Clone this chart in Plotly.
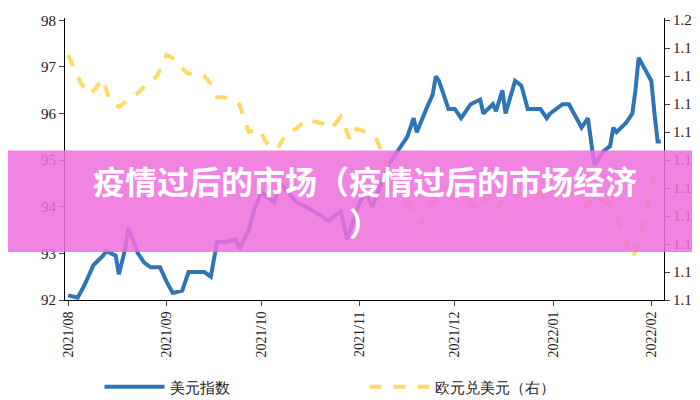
import pandas as pd
import plotly.graph_objects as go

# 美元指数 (left axis)
usd_dates = ["2021-08-01", "2021-08-04", "2021-08-06", "2021-08-09", "2021-08-12", "2021-08-13", "2021-08-16",
             "2021-08-17", "2021-08-19", "2021-08-20", "2021-08-23", "2021-08-25", "2021-08-27", "2021-08-30",
             "2021-09-01", "2021-09-03", "2021-09-06", "2021-09-08", "2021-09-10", "2021-09-13", "2021-09-15",
             "2021-09-17", "2021-09-20", "2021-09-23", "2021-09-24", "2021-09-27", "2021-09-29", "2021-10-01",
             "2021-10-05", "2021-10-07", "2021-10-12", "2021-10-15", "2021-10-20", "2021-10-22", "2021-10-26",
             "2021-10-28", "2021-11-01", "2021-11-03", "2021-11-05", "2021-11-10", "2021-11-12", "2021-11-16",
             "2021-11-18", "2021-11-19", "2021-11-22", "2021-11-24", "2021-11-25", "2021-11-26", "2021-11-29",
             "2021-12-01", "2021-12-03", "2021-12-06", "2021-12-09", "2021-12-10", "2021-12-13", "2021-12-14",
             "2021-12-16", "2021-12-17", "2021-12-20", "2021-12-22", "2021-12-24", "2021-12-28", "2021-12-30",
             "2021-12-31", "2022-01-04", "2022-01-06", "2022-01-10", "2022-01-12", "2022-01-14", "2022-01-17",
             "2022-01-19", "2022-01-20", "2022-01-21", "2022-01-24", "2022-01-26", "2022-01-27", "2022-01-28",
             "2022-02-01", "2022-02-02", "2022-02-03", "2022-02-04"]
usd_index = [92.1, 92.05, 92.3, 92.75, 92.95, 93.05, 92.95, 92.55, 93.1, 93.55, 93.0, 92.8, 92.7, 92.7,
             92.4, 92.15, 92.2, 92.6, 92.6, 92.6, 92.5, 93.25, 93.25, 93.3, 93.1, 93.5, 94.0, 94.3,
             94.1, 94.5, 94.1, 94.0, 93.8, 93.7, 93.9, 93.3, 94.1, 94.3, 94.0, 94.9, 95.1, 95.5,
             95.9, 95.6, 96.1, 96.4, 96.8, 96.7, 96.1, 96.1, 95.9, 96.2, 96.3, 96.0, 96.2, 96.05,
             96.5, 96.0, 96.7, 96.6, 96.1, 96.1, 95.9, 96.0, 96.2, 96.2, 95.7, 95.9, 94.9, 95.2,
             95.3, 95.7, 95.6, 95.8, 96.0, 96.5, 97.2, 96.7, 96.0, 95.4, 95.4]

# 欧元兑美元 (right axis)
eur_dates = ["2021-08-01", "2021-08-05", "2021-08-08", "2021-08-11", "2021-08-12", "2021-08-14", "2021-08-17",
             "2021-08-20", "2021-08-23", "2021-08-26", "2021-08-29", "2021-09-01", "2021-09-04", "2021-09-07",
             "2021-09-10", "2021-09-13", "2021-09-16", "2021-09-17", "2021-09-19", "2021-09-22", "2021-09-24",
             "2021-09-27", "2021-09-30", "2021-10-03", "2021-10-06", "2021-10-09", "2021-10-12", "2021-10-15",
             "2021-10-20", "2021-10-23", "2021-10-26", "2021-10-29", "2021-10-31", "2021-11-03", "2021-11-06",
             "2021-11-09", "2021-11-11", "2021-11-15", "2021-11-20", "2021-11-23", "2021-11-26", "2021-11-29",
             "2021-12-02", "2021-12-05", "2021-12-08", "2021-12-11", "2021-12-14", "2021-12-17", "2021-12-20",
             "2021-12-23", "2021-12-27", "2021-12-30", "2022-01-02", "2022-01-05", "2022-01-08", "2022-01-11",
             "2022-01-14", "2022-01-17", "2022-01-20", "2022-01-23", "2022-01-26", "2022-01-28", "2022-01-31",
             "2022-02-02", "2022-02-04"]
eur_usd = [1.1875, 1.1775, 1.1735, 1.1775, 1.1790, 1.1715, 1.1690, 1.1715, 1.1740, 1.1775, 1.1800, 1.1875,
           1.1860, 1.1815, 1.1800, 1.1800, 1.1758, 1.1725, 1.1725, 1.1715, 1.1700, 1.1600, 1.1612, 1.1555,
           1.1540, 1.1600, 1.1612, 1.1645, 1.1632, 1.1612, 1.1655, 1.1570, 1.1612, 1.1600, 1.1580, 1.1505,
           1.1400, 1.1370, 1.1270, 1.1335, 1.1370, 1.1355, 1.1380, 1.1355, 1.1320, 1.1370, 1.1320, 1.1370,
           1.1370, 1.1385, 1.1390, 1.1350, 1.1405, 1.1370, 1.1385, 1.1335, 1.1370, 1.1350, 1.1335, 1.1235,
           1.1150, 1.1200, 1.1350, 1.1450, 1.1460]

right_ticks = [1.10 + i * 0.01 for i in range(11)]
right_text = ["1.1"] * 10 + ["1.2"]

serif = "Liberation Serif, Times New Roman, serif"

fig = go.Figure()
fig.add_trace(go.Scatter(x=pd.to_datetime(usd_dates), y=usd_index, name="美元指数", mode="lines",
                         line=dict(color="#2e75b6", width=4)))
fig.add_trace(go.Scatter(x=pd.to_datetime(eur_dates), y=eur_usd, name="欧元兑美元（右）", mode="lines",
                         yaxis="y2", line=dict(color="#ffd966", width=4, dash="dash")))

fig.update_layout(
    width=700, height=400,
    margin=dict(l=57, r=44, t=10, b=108, autoexpand=False),
    plot_bgcolor="white", paper_bgcolor="white",
    font=dict(family=serif, size=14, color="#222"),
    showlegend=True,
    legend=dict(orientation="h", x=0.5, xanchor="center", y=-0.25, yanchor="top",
                font=dict(size=15), entrywidth=190, itemwidth=60),
    xaxis=dict(range=["2021-07-31", "2022-02-05"], tickvals=pd.to_datetime(
        ["2021-08-01", "2021-09-01", "2021-10-01", "2021-11-01", "2021-12-01", "2022-01-01", "2022-02-01"]),
        ticktext=["2021/08", "2021/09", "2021/10", "2021/11", "2021/12", "2022/01", "2022/02"],
        tickangle=-90, showgrid=False, showline=True, linecolor="black", ticks="outside", ticklen=5,
        automargin=False, tickfont=dict(size=14)),
    yaxis=dict(range=[92, 98.05], tickvals=[92, 93, 94, 95, 96, 97, 98], showgrid=False, showline=True,
               linecolor="black", ticks="outside", ticklen=5, zeroline=False, automargin=False,
               tickfont=dict(size=15)),
    yaxis2=dict(range=[1.10, 1.2008], overlaying="y", side="right", tickvals=right_ticks, ticktext=right_text,
                showgrid=False, showline=True, linecolor="black", ticks="outside", ticklen=5, zeroline=False,
                automargin=False, tickfont=dict(size=15)),
)

# pink title banner over the chart
fig.add_shape(type="rect", xref="paper", yref="paper", x0=-0.1, x1=1.1, y0=0.17, y1=0.53,
              fillcolor="rgba(240,110,220,0.85)", line_width=0, layer="above")
fig.add_annotation(xref="paper", yref="paper", x=0.5, y=0.35, showarrow=False,
                   text="<b>疫情过后的市场（疫情过后的市场经济<br>）</b>",
                   font=dict(family="Noto Sans CJK SC", size=32, color="white"))

fig.write_html("out.html")
